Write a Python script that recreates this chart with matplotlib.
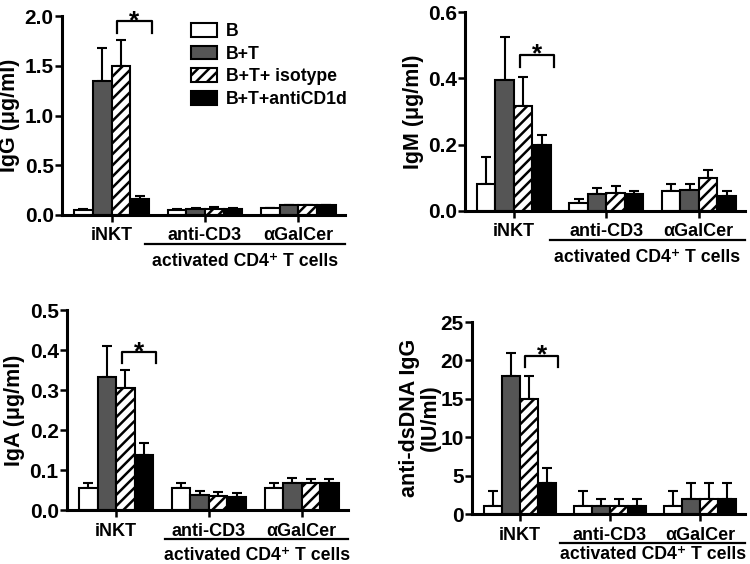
import numpy as np
import matplotlib
matplotlib.use("Agg")
import matplotlib.pyplot as plt
from matplotlib.patches import Patch

plt.rcParams["font.family"] = ["Liberation Sans", "DejaVu Sans"]
plt.rcParams["font.weight"] = "bold"
plt.rcParams["axes.labelweight"] = "bold"
plt.rcParams["hatch.linewidth"] = 1.8

grupos = ["iNKT", "anti-CD3", "\u03b1GalCer"]
series = ["B", "B+T", "B+T+ isotype", "B+T+antiCD1d"]

# valores por painel: linhas = series, colunas = grupos
igg = [[0.05, 0.05, 0.07], [1.35, 0.06, 0.10], [1.50, 0.06, 0.10], [0.16, 0.06, 0.10]]
igg_err = [[0.06, 0.06, 0.07], [1.68, 0.07, 0.10], [1.76, 0.08, 0.10], [0.19, 0.07, 0.10]]

igm = [[0.082, 0.025, 0.060], [0.394, 0.050, 0.062], [0.318, 0.054, 0.100], [0.198, 0.052, 0.046]]
igm_err = [[0.163, 0.035, 0.080], [0.525, 0.070, 0.082], [0.404, 0.074, 0.125], [0.230, 0.060, 0.060]]

iga = [[0.056, 0.056, 0.056], [0.333, 0.038, 0.068], [0.306, 0.035, 0.067], [0.138, 0.033, 0.067]]
iga_err = [[0.068, 0.068, 0.068], [0.410, 0.048, 0.079], [0.350, 0.044, 0.078], [0.168, 0.043, 0.077]]

dsdna = [[1, 1, 1], [18, 1, 2], [15, 1, 2], [4, 1, 2]]
dsdna_err = [[3, 3, 3], [21, 2, 4], [18, 2, 4], [6, 2, 4]]

cores = ["white", "#555555", "white", "black"]
hachuras = [None, None, "///", None]

paineis = [
    dict(v=igg, e=igg_err, ylab="IgG (\u03bcg/ml)", ymax=2.0, ticks=np.arange(0, 2.01, 0.5), fmt="{:.1f}",
         pos=[62, 16, 345, 215], brk=(1.83, 1.95), lin=0.36, txt=51),
    dict(v=igm, e=igm_err, ylab="IgM (\u03bcg/ml)", ymax=0.6, ticks=np.arange(0, 0.61, 0.2), fmt="{:.1f}",
         pos=[465, 12, 745, 211], brk=(0.434, 0.471), lin=0.39, txt=51),
    dict(v=iga, e=iga_err, ylab="IgA (\u03bcg/ml)", ymax=0.5, ticks=np.arange(0, 0.51, 0.1), fmt="{:.1f}",
         pos=[67, 310, 348, 510], brk=(0.367, 0.394), lin=0.53, txt=50),
    dict(v=dsdna, e=dsdna_err, ylab="anti-dsDNA IgG\n(IU/ml)", ymax=25, ticks=np.arange(0, 26, 5), fmt="{:.0f}",
         pos=[472, 322, 745, 514], brk=(19.1, 20.6), lin=0.45, txt=45),
]

W, H = 750, 564
fig = plt.figure(figsize=(7.5, 5.64), dpi=100)
x = np.arange(len(grupos))
larg = 0.2

for k, p in enumerate(paineis):
    l, t, r, b = p["pos"]
    ax = fig.add_axes([l / W, 1 - b / H, (r - l) / W, (b - t) / H])
    altura_px = b - t
    for i in range(len(series)):
        xs = x + (i - 1.5) * larg
        vals = np.array(p["v"][i])
        errs = np.array(p["e"][i]) - vals
        ax.errorbar(xs, vals, yerr=[np.zeros_like(vals), errs], fmt="none", ecolor="black",
                    elinewidth=1.5, capsize=3.5, capthick=1.5, zorder=1)
        ax.bar(xs, vals, larg, color=cores[i], edgecolor="black", linewidth=1.5,
               hatch=hachuras[i], zorder=2, label=series[i])
    ax.set_xlim(-0.53, 2.5)
    ax.set_ylim(0, p["ymax"])
    ax.set_yticks(p["ticks"])
    ax.set_yticklabels([p["fmt"].format(v) for v in p["ticks"]])
    ax.set_xticks(x)
    ax.set_xticklabels(grupos)
    ax.tick_params(axis="y", labelsize=15, width=1.8, length=5, pad=1)
    ax.tick_params(axis="x", labelsize=13, width=1.8, length=5, pad=4)
    for s in ["top", "right"]:
        ax.spines[s].set_visible(False)
    for s in ["left", "bottom"]:
        ax.spines[s].set_linewidth(2.2)
    ax.set_ylabel(p["ylab"], fontsize=15.5, labelpad=3, linespacing=1.0)
    if k == 3:
        ax.yaxis.set_label_coords(-0.115, 0.5)

    # linha e texto das celulas ativadas
    y_lin = -29 / altura_px
    ax.plot([p["lin"], 2.5], [y_lin, y_lin], color="black", lw=1.6, clip_on=False,
            transform=ax.get_xaxis_transform())
    ax.text((p["lin"] + 2.5) / 2, -p["txt"] / altura_px, "activated CD4\u207a T cells", fontsize=12.7,
            ha="center", va="baseline", transform=ax.get_xaxis_transform())

    # colchete de significancia
    y0, y1 = p["brk"]
    ax.plot([0.06, 0.06, 0.43, 0.43], [y0, y1, y1, y0], color="black", lw=1.6, clip_on=False)
    ax.annotate("*", xy=(0.245, y1), xytext=(0, -5), textcoords="offset points",
                fontsize=19, ha="center", va="baseline")

    if k == 0:
        ax.legend(handles=[Patch(facecolor=cores[i], edgecolor="black", linewidth=1.5, hatch=hachuras[i],
                                 label=series[i]) for i in range(len(series))],
                  loc="upper left", bbox_to_anchor=(0.43, 1.0), frameon=False, fontsize=12.7,
                  handlelength=1.5, handleheight=0.8, labelspacing=0.32, handletextpad=0.5,
                  borderaxespad=0)

fig.savefig("out.png", dpi=100)
